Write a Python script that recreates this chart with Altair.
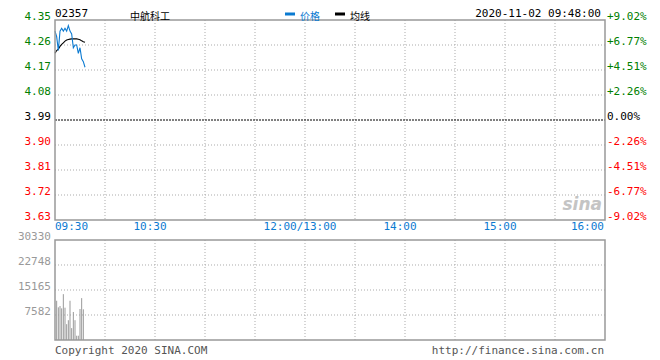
import altair as alt
import pandas as pd

# ---------------- data ----------------
minutes = list(range(0, 19))  # 09:30 .. 09:48 (trading minutes)
price = [4.31, 4.29, 4.24, 4.31, 4.32, 4.31, 4.32, 4.31, 4.33, 4.31,
         4.30, 4.25, 4.26, 4.26, 4.23, 4.25, 4.21, 4.20, 4.18]
avg_price = [4.23, 4.24, 4.245, 4.255, 4.262, 4.268, 4.274, 4.278, 4.280, 4.281,
             4.282, 4.282, 4.282, 4.282, 4.281, 4.279, 4.275, 4.272, 4.270]
vol_minutes = list(range(1, 18))
volume = [11900, 9900, 10300, 9600, 13900, 9800, 4800, 6000, 11900,
          3600, 8500, 6000, 1300, 1300, 9400, 12700, 9300]

price_ticks = [4.35, 4.26, 4.17, 4.08, 3.99, 3.90, 3.81, 3.72, 3.63]
price_labels = ["4.35", "4.26", "4.17", "4.08", "3.99", "3.90", "3.81", "3.72", "3.63"]
pct_labels = ["+9.02%", "+6.77%", "+4.51%", "+2.26%", "0.00%",
              "-2.26%", "-4.51%", "-6.77%", "-9.02%"]
tick_side = ["up", "up", "up", "up", "flat", "down", "down", "down", "down"]
prev_close = 3.99

vol_ticks = [30330, 22748, 15165, 7582]
vol_labels = ["30330", "22748", "15165", "7582"]

time_ticks = [0, 60, 150, 210, 270, 330]
time_labels = ["09:30", "10:30", "12:00/13:00", "14:00", "15:00", "16:00"]
grid_minutes = [30, 60, 90, 120, 150, 180, 210, 240, 270, 300]

# ---------------- styling ----------------
MONO = "DejaVu Sans Mono"
CJK = "Noto Sans CJK SC"
GREEN = "#008000"
RED = "#FF0000"
BLUE = "#0B7AD1"
GRID = "#ABABAB"
BORDER = "#999999"

XS = alt.Scale(domain=[0, 330], range=[47, 597], nice=False, zero=False)
PS = alt.Scale(domain=[3.63, 4.35], range=[212, 12], nice=False, zero=False)
VS = alt.Scale(domain=[0, 30330], range=[332, 232], nice=False, zero=False)
CS = alt.Scale(domain=["up", "flat", "down"], range=[GREEN, "#000000", RED])

series = pd.DataFrame({"m": minutes, "price": price, "avg": avg_price})
vol_df = pd.DataFrame({"m": vol_minutes, "vol": volume})
ptick_df = pd.DataFrame({"p": price_ticks, "lab": price_labels, "pct": pct_labels, "side": tick_side})
pgrid_df = ptick_df[(ptick_df.p != prev_close) & (ptick_df.p != 4.35) & (ptick_df.p != 3.63)]
vtick_df = pd.DataFrame({"v": vol_ticks, "lab": vol_labels})
vgrid_h_df = vtick_df[vtick_df.v != 30330]
grid_df = pd.DataFrame({"m": grid_minutes})
time_df = pd.DataFrame({"m": time_ticks, "lab": time_labels})
one = pd.DataFrame({"a": [0]})

X = lambda: alt.X("m:Q", scale=XS, axis=None)

vgrid_p = alt.Chart(grid_df).mark_rule(color=GRID, strokeDash=[1, 2], strokeWidth=1).encode(
    x=X(), y=alt.Y(datum=4.35, type="quantitative", scale=PS, axis=None), y2=alt.datum(3.63))
vgrid_v = alt.Chart(grid_df).mark_rule(color=GRID, strokeDash=[1, 2], strokeWidth=1).encode(
    x=X(), y=alt.Y(datum=30330, type="quantitative", scale=VS, axis=None), y2=alt.datum(0))
hgrid_p = alt.Chart(pgrid_df).mark_rule(color=GRID, strokeDash=[1, 2], strokeWidth=1).encode(
    y=alt.Y("p:Q", scale=PS, axis=None),
    x=alt.X(datum=0, type="quantitative", scale=XS, axis=None), x2=alt.datum(330))
close_line = alt.Chart(one).mark_rule(color="#000000", strokeDash=[2, 1], strokeWidth=1).encode(
    y=alt.Y(datum=prev_close, type="quantitative", scale=PS, axis=None),
    x=alt.X(datum=0, type="quantitative", scale=XS, axis=None), x2=alt.datum(330))
hgrid_v = alt.Chart(vgrid_h_df).mark_rule(color=GRID, strokeDash=[1, 2], strokeWidth=1).encode(
    y=alt.Y("v:Q", scale=VS, axis=None),
    x=alt.X(datum=0, type="quantitative", scale=XS, axis=None), x2=alt.datum(330))
border_p = alt.Chart(one).mark_rect(fillOpacity=0, stroke=BORDER, strokeWidth=1.5).encode(
    x=alt.X(datum=0, type="quantitative", scale=XS, axis=None), x2=alt.datum(330),
    y=alt.Y(datum=4.35, type="quantitative", scale=PS, axis=None), y2=alt.datum(3.63))
border_v = alt.Chart(one).mark_rect(fillOpacity=0, stroke=BORDER, strokeWidth=1.5).encode(
    x=alt.X(datum=0, type="quantitative", scale=XS, axis=None), x2=alt.datum(330),
    y=alt.Y(datum=30330, type="quantitative", scale=VS, axis=None), y2=alt.datum(0))

price_line = alt.Chart(series).mark_line(color=BLUE, strokeWidth=1.1).encode(
    x=X(), y=alt.Y("price:Q", scale=PS, axis=None))
avg_line = alt.Chart(series).mark_line(color="#000000", strokeWidth=1.1).encode(
    x=X(), y=alt.Y("avg:Q", scale=PS, axis=None))
vol_bars = alt.Chart(vol_df).mark_rule(color="#999999", strokeWidth=1).encode(
    x=X(), y=alt.Y("vol:Q", scale=VS, axis=None), y2=alt.datum(0))

plab_left = alt.Chart(ptick_df).mark_text(font=MONO, fontSize=11, align="right", baseline="middle", dx=-4, dy=-3).encode(
    x=alt.X(datum=0, type="quantitative", scale=XS, axis=None),
    y=alt.Y("p:Q", scale=PS, axis=None), text="lab:N",
    color=alt.Color("side:N", scale=CS, legend=None))
plab_right = alt.Chart(ptick_df).mark_text(font=MONO, fontSize=11, align="left", baseline="middle", dx=2, dy=-3).encode(
    x=alt.X(datum=330, type="quantitative", scale=XS, axis=None),
    y=alt.Y("p:Q", scale=PS, axis=None), text="pct:N",
    color=alt.Color("side:N", scale=CS, legend=None))
vlab = alt.Chart(vtick_df).mark_text(font=MONO, fontSize=11, align="right", baseline="middle", dx=-4, dy=-3, color="#999999").encode(
    x=alt.X(datum=0, type="quantitative", scale=XS, axis=None),
    y=alt.Y("v:Q", scale=VS, axis=None), text="lab:N")

tl_left = alt.Chart(time_df[time_df.m == 0]).mark_text(font=MONO, fontSize=11, align="left", baseline="middle", color=BLUE).encode(
    x=X(), y=alt.value(219), text="lab:N")
tl_mid = alt.Chart(time_df[(time_df.m > 0) & (time_df.m < 330)]).mark_text(font=MONO, fontSize=11, align="center", baseline="middle", dx=-5, color=BLUE).encode(
    x=X(), y=alt.value(219), text="lab:N")
tl_right = alt.Chart(time_df[time_df.m == 330]).mark_text(font=MONO, fontSize=11, align="right", baseline="middle", dx=-1, color=BLUE).encode(
    x=X(), y=alt.value(219), text="lab:N")


def txt(s, x, y, align="left", font=MONO, size=11, color="#000000", baseline="alphabetic", **kw):
    return alt.Chart(one).mark_text(text=s, font=font, fontSize=size, align=align,
                                    baseline=baseline, color=color, **kw).encode(
        x=alt.value(x), y=alt.value(y))


code_t = txt("02357", 47, 9)
name_t = txt("中航科工", 122, 11.6, font=CJK, size=10)
leg_blue = alt.Chart(one).mark_rule(color=BLUE, strokeWidth=3).encode(
    x=alt.value(277), x2=alt.value(287), y=alt.value(6))
leg_blue_t = txt("价格", 292, 11.6, font=CJK, size=10, color=BLUE)
leg_black = alt.Chart(one).mark_rule(color="#000000", strokeWidth=3).encode(
    x=alt.value(327), x2=alt.value(337), y=alt.value(6))
leg_black_t = txt("均线", 342, 11.6, font=CJK, size=10)
date_t = txt("2020-11-02 09:48:00", 593, 9, align="right")
copy_t = txt("Copyright 2020 SINA.COM", 47, 346, color="#555555")
url_t = txt("http://finance.sina.com.cn", 596, 346, align="right", color="#555555")
logo_t = txt("sina", 594, 202, align="right", font="DejaVu Sans", size=17, color="#C4C4C4",
             fontStyle="italic", fontWeight="bold")

chart = alt.layer(
    vgrid_p, vgrid_v, hgrid_p, hgrid_v, close_line, logo_t,
    vol_bars, avg_line, price_line, border_p, border_v,
    plab_left, plab_right, vlab, tl_left, tl_mid, tl_right,
    code_t, name_t, leg_blue, leg_blue_t, leg_black, leg_black_t, date_t, copy_t, url_t,
).resolve_scale(y="independent").properties(
    width=644, height=350, padding=0, autosize=alt.AutoSizeParams(type="none"),
    background="#FFFFFF",
).configure_view(stroke=None)

chart.save("out.html", embed_options={"renderer": "svg", "actions": False})
